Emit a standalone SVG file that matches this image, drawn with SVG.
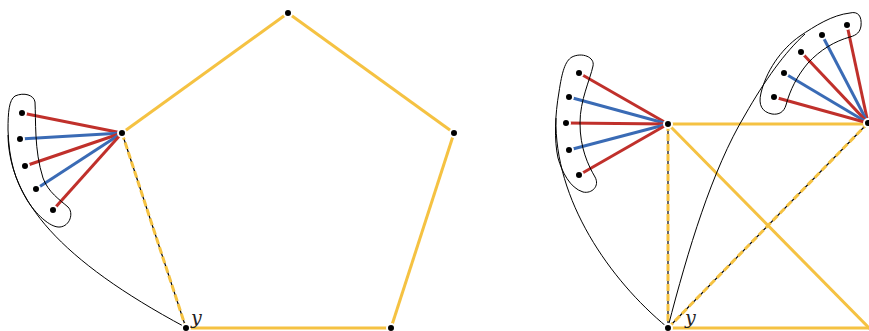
<svg xmlns="http://www.w3.org/2000/svg" width="869" height="331" viewBox="0 0 869 331">
<style>
.y{stroke:#F5C242;stroke-width:3;fill:none}
.yd{stroke:#F5C242;stroke-width:3;fill:none;stroke-dasharray:7 3}
.bk{stroke:#000;stroke-width:1.2;fill:none}
.r{stroke:#C0302B;stroke-width:3;fill:none}
.b{stroke:#3A6BB5;stroke-width:3;fill:none}
.c{stroke:#000;stroke-width:1;fill:none}
.d{fill:#000;stroke:#fff;stroke-width:2}
.lbl{font-family:"DejaVu Serif","Liberation Serif",serif;font-style:italic;font-size:19px;fill:#222}
</style>
<rect width="869" height="331" fill="#fff"/>
<g id="connectors">
<line class="y" x1="122" y1="133" x2="288" y2="13"/>
<line class="y" x1="288" y1="13" x2="454" y2="133"/>
<line class="y" x1="454" y1="133" x2="391" y2="328"/>
<line class="y" x1="391" y1="328" x2="186" y2="328"/>
<line class="bk" x1="122" y1="133" x2="186" y2="328"/>
<line class="yd" x1="122" y1="133" x2="186" y2="328"/>
<line class="r" x1="122" y1="133" x2="22" y2="113"/>
<line class="b" x1="122" y1="133" x2="20" y2="139"/>
<line class="r" x1="122" y1="133" x2="25" y2="166"/>
<line class="b" x1="122" y1="133" x2="36" y2="189"/>
<line class="r" x1="122" y1="133" x2="53" y2="210"/>
<path class="c" d="M15,96 C24,92 34,95 35,102 C36,120 34,150 43,178 C48,192 60,200 68,207 C74,213 70,226 60,227 C50,228 35,213 27,200 C15,180 9,160 8,130 C8,112 9,100 15,96 Z"/>
<path class="c" d="M8,135 C9,200 60,260 185,327"/>
<line class="y" x1="668" y1="124" x2="869" y2="124"/>
<line class="y" x1="668" y1="124" x2="872" y2="331"/>
<line class="y" x1="668" y1="328" x2="869" y2="328"/>
<line class="bk" x1="668" y1="124" x2="668" y2="328"/>
<line class="yd" x1="668" y1="124" x2="668" y2="328"/>
<line class="bk" x1="668" y1="328" x2="868" y2="123"/>
<line class="yd" x1="668" y1="328" x2="868" y2="123"/>
<line class="r" x1="668" y1="124" x2="579" y2="73"/>
<line class="b" x1="668" y1="124" x2="569" y2="97"/>
<line class="r" x1="668" y1="124" x2="566" y2="123"/>
<line class="b" x1="668" y1="124" x2="569" y2="150"/>
<line class="r" x1="668" y1="124" x2="579" y2="175"/>
<path class="c" d="M572,57 C582,52 595,57 593,66 C590,80 580,100 580,123 C580,148 588,165 595,177 C600,186 592,194 583,192 C570,188 562,172 558,158 C554,140 555,115 559,92 C562,72 565,61 572,57 Z"/>
<path class="c" d="M556,118 C554,200 610,280 667,327"/>
<line class="r" x1="868" y1="123" x2="847" y2="25"/>
<line class="b" x1="868" y1="123" x2="822" y2="35"/>
<line class="r" x1="868" y1="123" x2="801" y2="52"/>
<line class="b" x1="868" y1="123" x2="784" y2="73"/>
<line class="r" x1="868" y1="123" x2="774" y2="97"/>
<path class="c" d="M850,13 C858,11 862,16 861,26 C860,32 857,35 850,37 C835,41 820,50 808,63 C797,76 790,90 786,105 C784,112 779,115 772,114 C762,112 758,105 761,93 C766,72 780,50 800,36 C815,26 832,15 850,13 Z"/>
<path class="c" d="M668,327 C688,250 712,170 745,115 C765,80 785,52 805,34"/>
</g>
<g id="nodes">
<g id="n-top"><circle class="d" cx="288" cy="13" r="4"/></g>
<g id="n-right"><circle class="d" cx="454" cy="133" r="4"/></g>
<g id="n-br"><circle class="d" cx="391" cy="328" r="4"/></g>
<g id="n-y1"><circle class="d" cx="186" cy="328" r="4"/><text class="lbl" x="191" y="324">y</text></g>
<g id="n-hub1"><circle class="d" cx="122" cy="133" r="4"/></g>
<g id="fan1">
<circle class="d" cx="22" cy="113" r="4"/>
<circle class="d" cx="20" cy="139" r="4"/>
<circle class="d" cx="25" cy="166" r="4"/>
<circle class="d" cx="36" cy="189" r="4"/>
<circle class="d" cx="53" cy="210" r="4"/>
</g>
<g id="n-hub2"><circle class="d" cx="668" cy="124" r="4"/></g>
<g id="n-y2"><circle class="d" cx="668" cy="328" r="4"/><text class="lbl" x="685" y="324">y</text></g>
<g id="n-hub3"><circle class="d" cx="868" cy="123" r="4"/></g>
<g id="fan2">
<circle class="d" cx="579" cy="73" r="4"/>
<circle class="d" cx="569" cy="97" r="4"/>
<circle class="d" cx="566" cy="123" r="4"/>
<circle class="d" cx="569" cy="150" r="4"/>
<circle class="d" cx="579" cy="175" r="4"/>
</g>
<g id="fan3">
<circle class="d" cx="847" cy="25" r="4"/>
<circle class="d" cx="822" cy="35" r="4"/>
<circle class="d" cx="801" cy="52" r="4"/>
<circle class="d" cx="784" cy="73" r="4"/>
<circle class="d" cx="774" cy="97" r="4"/>
</g>
</g>
</svg>
